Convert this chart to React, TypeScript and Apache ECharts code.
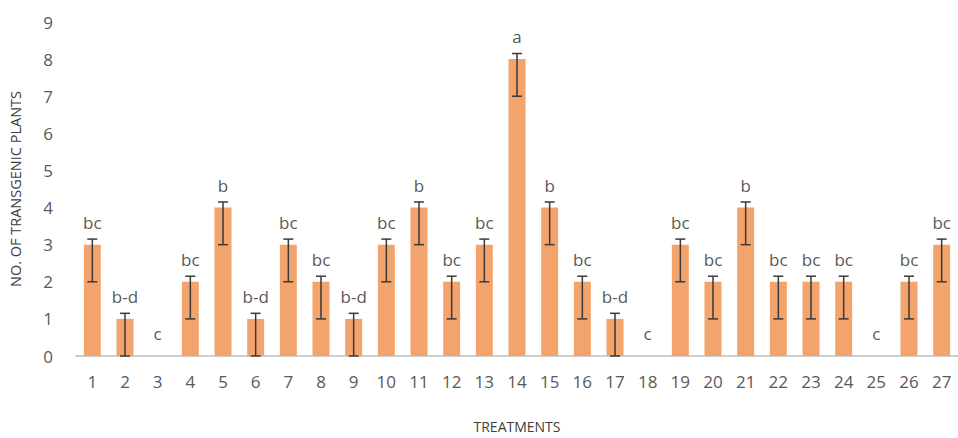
import React, { useEffect, useRef } from "react";
import * as echarts from "echarts";

const categories = ["1","2","3","4","5","6","7","8","9","10","11","12","13","14","15","16","17","18","19","20","21","22","23","24","25","26","27"];
const values = [3,1,0,2,4,1,3,2,1,3,4,2,3,8,4,2,1,0,3,2,4,2,2,2,0,2,3];
const errUp = [0.15,0.15,0,0.15,0.15,0.15,0.15,0.15,0.15,0.15,0.15,0.15,0.15,0.15,0.15,0.15,0.15,0,0.15,0.15,0.15,0.15,0.15,0.15,0,0.15,0.15];
const errDown = [1,1,0,1,1,1,1,1,1,1,1,1,1,1,1,1,1,0,1,1,1,1,1,1,0,1,1];
const letters = ["bc","b-d","c","bc","b","b-d","bc","bc","b-d","bc","b","bc","bc","a","b","bc","b-d","c","bc","bc","b","bc","bc","bc","c","bc","bc"];

const FONT = "'Open Sans', 'Noto Sans', sans-serif";

export default function App() {
  const ref = useRef<HTMLDivElement>(null);
  useEffect(() => {
    const chart = echarts.init(ref.current!, null, { renderer: "svg" });
    const errData = values
      .map((v, i) => [i, v - errDown[i], v + errUp[i]])
      .filter((d, i) => values[i] > 0);
    chart.setOption({
      animation: false,
      backgroundColor: "#ffffff",
      textStyle: { fontFamily: FONT },
      grid: { left: 71, right: 0, top: 22, bottom: 73, containLabel: false },
      xAxis: {
        type: "category",
        data: categories,
        name: "TREATMENTS",
        nameLocation: "middle",
        nameGap: 63,
        nameTextStyle: { fontSize: 14, color: "#404040", fontFamily: FONT },
        axisLine: { lineStyle: { color: "#bfbfbf", width: 1.5 } },
        axisTick: { show: false },
        axisLabel: { fontSize: 17, color: "#595959", margin: 17, interval: 0, fontFamily: FONT },
      },
      yAxis: {
        type: "value",
        min: 0,
        max: 9,
        interval: 1,
        name: "NO. OF TRANSGENIC PLANTS",
        nameLocation: "middle",
        nameGap: 53,
        nameTextStyle: { fontSize: 14.5, color: "#404040", fontFamily: FONT },
        axisLine: { show: false },
        axisTick: { show: false },
        splitLine: { show: false },
        axisLabel: { fontSize: 17, color: "#595959", margin: 23, fontFamily: FONT },
      },
      series: [
        {
          type: "bar",
          data: values,
          barWidth: 17,
          itemStyle: { color: "#F3A46C" },
          label: {
            show: true,
            position: "top",
            distance: 14,
            fontSize: 17,
            color: "#595959",
            fontFamily: FONT,
            formatter: (p: any) => letters[p.dataIndex],
          },
        },
        {
          type: "custom",
          data: errData,
          z: 5,
          renderItem: (params: any, api: any) => {
            const x = api.value(0);
            const lo = api.coord([x, api.value(1)]);
            const hi = api.coord([x, api.value(2)]);
            const cx = lo[0];
            const hw = 5;
            const style = { stroke: "#3a3a3a", lineWidth: 1.5 };
            return {
              type: "group",
              children: [
                { type: "line", shape: { x1: cx, y1: lo[1], x2: cx, y2: hi[1] }, style },
                { type: "line", shape: { x1: cx - hw, y1: hi[1], x2: cx + hw, y2: hi[1] }, style },
                { type: "line", shape: { x1: cx - hw, y1: lo[1], x2: cx + hw, y2: lo[1] }, style },
              ],
            };
          },
        },
      ],
    });
    return () => chart.dispose();
  }, []);
  return <div ref={ref} style={{ position: "fixed", left: 0, top: 0, width: 958, height: 438 }} />;
}
